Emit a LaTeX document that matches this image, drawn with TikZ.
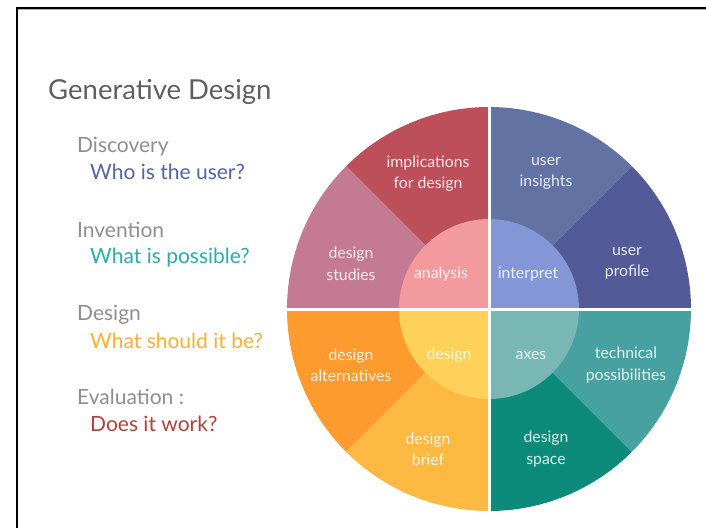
\documentclass[tikz,border=0pt]{standalone}
\usepackage{fontspec}
\setmainfont{Lato}
\definecolor{cImp}{HTML}{BC4F5A}
\definecolor{cStu}{HTML}{C47A92}
\definecolor{cAna}{HTML}{F29A9E}
\definecolor{cIns}{HTML}{6272A3}
\definecolor{cPro}{HTML}{525A97}
\definecolor{cInt}{HTML}{8396D5}
\definecolor{cTec}{HTML}{47A1A0}
\definecolor{cSpa}{HTML}{0C8B7B}
\definecolor{cAxe}{HTML}{78B7B3}
\definecolor{cAlt}{HTML}{FE9B2E}
\definecolor{cBri}{HTML}{FEB943}
\definecolor{cDes}{HTML}{FFD158}
\definecolor{cTitle}{HTML}{5F5F5F}
\definecolor{cHead}{HTML}{8F8F8F}
\definecolor{qBlue}{HTML}{5464A8}
\definecolor{qTeal}{HTML}{2AACB0}
\definecolor{qGold}{HTML}{FDB030}
\definecolor{qRed}{HTML}{B0413A}
\tikzset{
  wtext/.style={text=white, text opacity=0.85, align=center, inner sep=0pt,
    font=\fontsize{15.8}{21.5}\selectfont},
  headtext/.style={anchor=base west, inner sep=0pt, text=cHead,
    font=\fontsize{21}{25}\selectfont},
  qtext/.style={anchor=base west, inner sep=0pt,
    font=\fontsize{21}{25}\selectfont},
}
\newcommand{\wedgeseg}[4]{% color, start, end, radius
  \fill[#1] (ctr) -- ++(#2:#4) arc[start angle=#2, end angle=#3, radius=#4] -- cycle;}
\begin{document}
\begin{tikzpicture}[x=1pt,y=-1pt]
\useasboundingbox (0,0) rectangle (706,528);
\fill[white] (0,0) rectangle (706,528);
% frame lines
\coordinate (tl) at (17,8);
\coordinate (tr) at (706,8);
\coordinate (bl) at (17,528);
\draw[black!30, line width=1pt] (17,9.8) -- (706,9.8);
\draw[black, line width=2.4pt] (tr) -- (tl) -- (bl);
% title and stages
\node[anchor=base west, inner sep=0pt, text=cTitle, font=\fontsize{27.5}{32}\selectfont] (title) at (48,99) {Generative Design};
\node[headtext] (h1) at (77,152) {Discovery};
\node[qtext, text=qBlue] (q1) at (90,179) {Who is the user?};
\node[headtext] (h2) at (77,237) {Invention};
\node[qtext, text=qTeal] (q2) at (90,263) {What is possible?};
\node[headtext] (h3) at (77,320) {Design};
\node[qtext, text=qGold] (q3) at (90,348) {What should it be?};
\node[headtext] (h4) at (77,404) {Evaluation :};
\node[qtext, text=qRed] (q4) at (90,431) {Does it work?};
% wheel
\coordinate (ctr) at (489,309);
\wedgeseg{cImp}{90}{135}{202pt}
\wedgeseg{cStu}{135}{180}{202pt}
\wedgeseg{cIns}{45}{90}{202pt}
\wedgeseg{cPro}{0}{45}{202pt}
\wedgeseg{cTec}{-45}{0}{202pt}
\wedgeseg{cSpa}{-90}{-45}{202pt}
\wedgeseg{cAlt}{180}{225}{202pt}
\wedgeseg{cBri}{225}{270}{202pt}
\wedgeseg{cAna}{90}{180}{90pt}
\wedgeseg{cInt}{0}{90}{90pt}
\wedgeseg{cAxe}{-90}{0}{90pt}
\wedgeseg{cDes}{180}{270}{90pt}
\draw[white, line width=3pt] (ctr) -- ++(0,-205);
\draw[white, line width=3pt] (ctr) -- ++(0,205);
\draw[white, line width=3pt] (ctr) -- ++(-205,0);
\draw[white, line width=3pt] (ctr) -- ++(205,0);
% labels
\node[wtext] (imp) at (428,173.5) {implications\\for design};
\node[wtext] (ins) at (546,173.5) {user\\insights};
\node[wtext] (stu) at (351,263.5) {design\\studies};
\node[wtext] (ana) at (441,274) {analysis};
\node[wtext] (int) at (528,274) {interpret};
\node[wtext] (pro) at (627,263.5) {user\\profile};
\node[wtext] (alt) at (351,365) {design\\alternatives};
\node[wtext] (des) at (449,355) {design};
\node[wtext] (axe) at (531,355) {axes};
\node[wtext] (tec) at (626,365) {technical\\possibilities};
\node[wtext] (bri) at (428,449) {design\\brief};
\node[wtext] (spa) at (546,449) {design\\space};
\end{tikzpicture}
\end{document}
